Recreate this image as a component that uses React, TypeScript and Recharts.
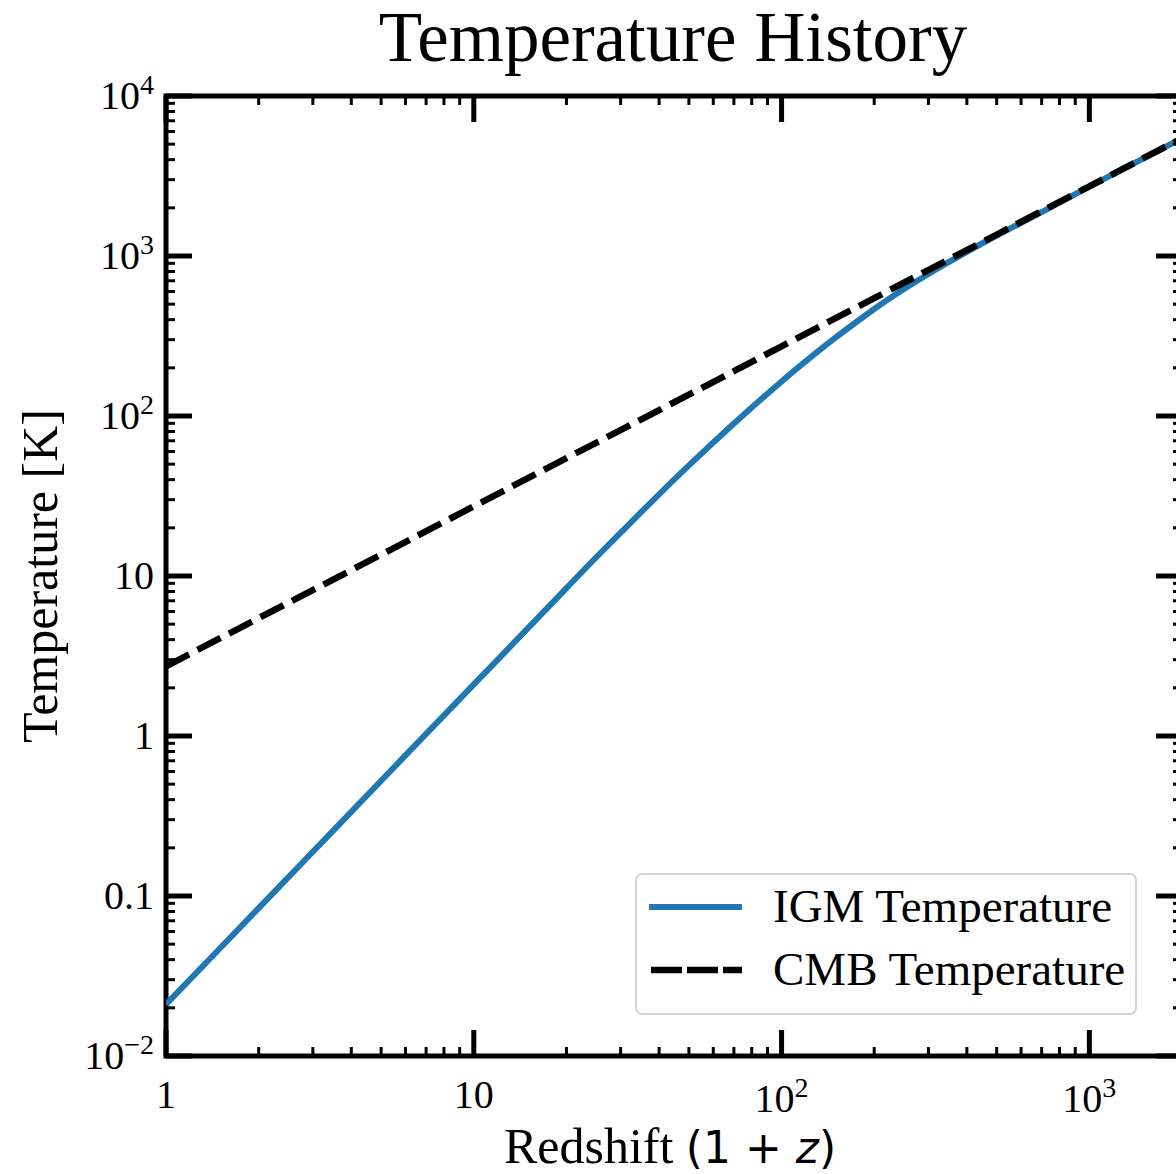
import React from "react";
import { LineChart, Line, XAxis, YAxis, ReferenceArea, Legend } from "recharts";

// IGM gas temperature vs (1+z)
const redshiftIGM = [1, 2, 3, 5, 7, 10, 15, 20, 25, 30, 40, 50, 60, 70, 80, 90, 100, 120, 150, 175, 200, 250, 300, 350, 400, 500, 700, 1000, 1500, 2000];
const tempIGM = [0.021, 0.084, 0.189, 0.525, 1.03, 2.1, 4.72, 8.4, 13.1, 18.65, 32.4, 49.1, 68.3, 89.7, 113.1, 137.7, 164.4, 220.2, 309.7, 386.8, 466.6, 622, 771.8, 917.7, 1062, 1343, 1882, 2710, 4080, 5445];

// CMB temperature
const redshiftCMB = [1, 2, 5, 10, 20, 50, 100, 200, 500, 1000, 2000];
const tempCMB = [2.725, 5.45, 13.6, 27.25, 54.5, 136, 272.5, 545, 1362, 2725, 5450];

const xMajorTicks = [1, 10, 100, 1000];
const xMajorLabels = [["1", ""], ["10", ""], ["10", "2"], ["10", "3"]];
const yMajorTicks = [0.01, 0.1, 1, 10, 100, 1000, 10000];
const yMajorLabels = [["10", "\u22122"], ["0.1", ""], ["1", ""], ["10", ""], ["10", "2"], ["10", "3"], ["10", "4"]];

const legendLabels = ["IGM Temperature", "CMB Temperature"];

const igmData = redshiftIGM.map((z, i) => ({ z, t: tempIGM[i] }));
const cmbData = redshiftCMB.map((z, i) => ({ z, t: tempCMB[i] }));

const minorsOf = (decades: number[]) =>
  decades.flatMap((d) => [2, 3, 4, 5, 6, 7, 8, 9].map((m) => +(m * d).toPrecision(3)));
const xTicks = [...xMajorTicks, ...minorsOf([1, 10, 100])].sort((a, b) => a - b);
const yTicks = [...yMajorTicks, ...minorsOf([0.01, 0.1, 1, 10, 100, 1000])].sort((a, b) => a - b);

const W = 1200;
const H = 1174;
const PLOT_TOP = 96;
const PLOT_RIGHT = 1182;
const SERIF = "'Liberation Serif', 'Times New Roman', serif";
const MAJOR_LEN = 26;
const MINOR_LEN = 9;

function YTick(props: any) {
  const { x, y, payload } = props;
  const idx = yMajorTicks.indexOf(payload.value);
  const major = idx >= 0;
  const len = major ? MAJOR_LEN : MINOR_LEN;
  const sw = major ? 5 : 3;
  return (
    <g>
      <line x1={x} x2={x + len} y1={y} y2={y} stroke="#000" strokeWidth={sw} />
      <line x1={PLOT_RIGHT - len} x2={PLOT_RIGHT} y1={y} y2={y} stroke="#000" strokeWidth={sw} />
      {major && (
        <text x={x - 12} y={y + 13} textAnchor="end" fontFamily={SERIF} fontSize={40} fill="#000">
          {yMajorLabels[idx][0]}
          {yMajorLabels[idx][1] && (
            <tspan dy={-15} fontSize={28}>
              {yMajorLabels[idx][1]}
            </tspan>
          )}
        </text>
      )}
    </g>
  );
}

function XTick(props: any) {
  const { x, y, payload } = props;
  const idx = xMajorTicks.indexOf(payload.value);
  const major = idx >= 0;
  const len = major ? MAJOR_LEN : MINOR_LEN;
  const sw = major ? 5 : 3;
  const exp = major ? xMajorLabels[idx][1] : "";
  return (
    <g>
      <line x1={x} x2={x} y1={y} y2={y - len} stroke="#000" strokeWidth={sw} />
      <line x1={x} x2={x} y1={PLOT_TOP} y2={PLOT_TOP + len} stroke="#000" strokeWidth={sw} />
      {major && (
        <text x={x} y={y + 52 + (exp ? 4 : 0)} textAnchor="middle" fontFamily={SERIF} fontSize={40} fill="#000">
          {xMajorLabels[idx][0]}
          {exp && (
            <tspan dy={-15} fontSize={28}>
              {exp}
            </tspan>
          )}
        </text>
      )}
    </g>
  );
}

function LegendBox() {
  const rowY = [34, 97];
  return (
    <div
      style={{
        position: "relative",
        width: 502,
        height: 142,
        boxSizing: "border-box",
        border: "2px solid #d4d4d4",
        borderRadius: 7,
        background: "rgba(255,255,255,0.85)",
      }}
    >
      <svg width={498} height={138} style={{ position: "absolute", left: 0, top: 0 }}>
        <line x1={12} x2={105} y1={rowY[0] - 2} y2={rowY[0] - 2} stroke="#1f77b4" strokeWidth={6} />
        <line x1={14} x2={105} y1={rowY[1] - 2} y2={rowY[1] - 2} stroke="#000" strokeWidth={6.5} strokeDasharray="31 5" />
        {legendLabels.map((lab, i) => (
          <text key={lab} x={136} y={rowY[i] + 13} fontFamily={SERIF} fontSize={47} fill="#000">
            {lab}
          </text>
        ))}
      </svg>
    </div>
  );
}

export default function App() {
  return (
    <div style={{ position: "absolute", left: 0, top: 0, width: 1176, height: 1174, overflow: "hidden", background: "#fff" }}>
      <LineChart width={W} height={H} margin={{ top: PLOT_TOP, right: W - PLOT_RIGHT, bottom: 88, left: 106 }}>
        <XAxis
          dataKey="z"
          type="number"
          scale="log"
          domain={[1, 2000]}
          allowDataOverflow
          ticks={xTicks}
          interval={0}
          height={30}
          tickLine={false}
          axisLine={false}
          tickSize={0}
          tickMargin={0}
          tick={(p: any) => <XTick {...p} />}
        />
        <YAxis
          type="number"
          scale="log"
          domain={[0.01, 10000]}
          allowDataOverflow
          ticks={yTicks}
          interval={0}
          width={60}
          tickLine={false}
          axisLine={false}
          tickSize={0}
          tickMargin={0}
          tick={(p: any) => <YTick {...p} />}
        />
        <Line data={igmData} dataKey="t" type="monotone" stroke="#1f77b4" strokeWidth={6} dot={false} isAnimationActive={false} />
        <Line
          data={cmbData}
          dataKey="t"
          type="linear"
          stroke="#000"
          strokeWidth={6.5}
          strokeDasharray="26 9.5"
          dot={false}
          isAnimationActive={false}
        />
        <ReferenceArea x1={1} x2={2000} y1={0.01} y2={10000} fill="none" stroke="#000" strokeWidth={5} ifOverflow="visible" />
        <Legend
          layout="horizontal"
          verticalAlign="middle"
          align="center"
          wrapperStyle={{ position: "absolute", left: 635, top: 873, width: 502, height: 142 }}
          content={() => <LegendBox />}
        />
      </LineChart>
      <svg width={1176} height={1174} style={{ position: "absolute", left: 0, top: 0, pointerEvents: "none" }}>
        <text x={673} y={61} textAnchor="middle" fontFamily={SERIF} fontSize={71} fill="#000">
          Temperature History
        </text>
        <text x={670} y={1163} textAnchor="middle" fontFamily={SERIF} fontSize={50} fill="#000">
          {"Redshift "}
          <tspan fontFamily="'DejaVu Sans', sans-serif" fontSize={44}>
            {"(1 + "}
          </tspan>
          <tspan fontFamily="'DejaVu Sans', sans-serif" fontSize={44} fontStyle="italic">
            z
          </tspan>
          <tspan fontFamily="'DejaVu Sans', sans-serif" fontSize={44}>
            )
          </tspan>
        </text>
        <text x={57} y={576} transform="rotate(-90 57 576)" textAnchor="middle" fontFamily={SERIF} fontSize={50} fill="#000">
          Temperature [K]
        </text>
      </svg>
    </div>
  );
}
